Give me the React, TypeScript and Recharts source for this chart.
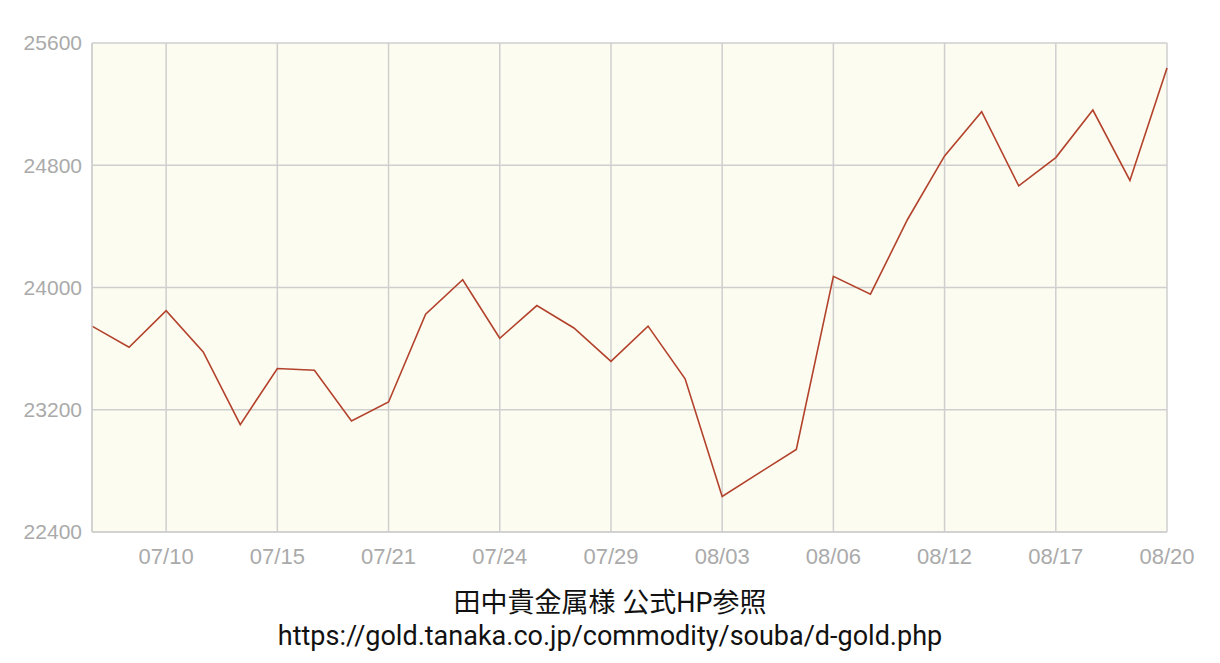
import { CartesianGrid, Line, LineChart, XAxis, YAxis } from "recharts";

const dates = [
  "07/08", "07/09", "07/10", "07/13", "07/14", "07/15", "07/16", "07/17", "07/21", "07/22",
  "07/23", "07/24", "07/27", "07/28", "07/29", "07/30", "07/31", "08/03", "08/04", "08/05",
  "08/06", "08/07", "08/10", "08/12", "08/13", "08/14", "08/17", "08/18", "08/19", "08/20",
];

const prices = [
  23747, 23609, 23848, 23578, 23103, 23470, 23458, 23127, 23251, 23825,
  24051, 23668, 23882, 23735, 23517, 23747, 23402, 22632, 22787, 22940,
  24073, 23956, 24445, 24861, 25150, 24665, 24850, 25161, 24701, 25436,
];

const xTicks = ["07/10", "07/15", "07/21", "07/24", "07/29", "08/03", "08/06", "08/12", "08/17", "08/20"];
const yTicks = [22400, 23200, 24000, 24800, 25600];

const chartData = dates.map((d, i) => ({ date: d, price: prices[i] }));

const font = "'Liberation Sans', Arial, sans-serif";

export default function App() {
  return (
    <div style={{ width: 1220, height: 663, background: "#fff" }}>
      <style>{`body { margin: 0; }`}</style>
      <LineChart
        width={1220}
        height={572}
        data={chartData}
        margin={{ top: 43, right: 53, left: 0, bottom: 0 }}
      >
        <CartesianGrid stroke="#cfcfcf" strokeWidth={1.5} fill="#fcfcf0" />
        <XAxis
          dataKey="date"
          ticks={xTicks}
          interval={0}
          tickLine={false}
          tickSize={0}
          tickMargin={16}
          height={40}
          axisLine={{ stroke: "#cfcfcf", strokeWidth: 1.5 }}
          tick={{ fill: "#aaaaaa", fontSize: 22, fontFamily: font }}
        />
        <YAxis
          domain={[22400, 25600]}
          ticks={yTicks}
          width={92}
          tickLine={false}
          tickSize={0}
          tickMargin={10}
          axisLine={{ stroke: "#cfcfcf", strokeWidth: 1.5 }}
          tick={{ fill: "#aaaaaa", fontSize: 21, fontFamily: font }}
        />
        <YAxis
          yAxisId="right"
          orientation="right"
          width={0}
          tick={false}
          tickLine={false}
          axisLine={{ stroke: "#cfcfcf", strokeWidth: 1.5 }}
        />
        <Line
          type="linear"
          dataKey="price"
          stroke="#b3422c"
          strokeWidth={1.6}
          dot={false}
          isAnimationActive={false}
        />
      </LineChart>
      <div
        style={{
          textAlign: "center",
          fontFamily: "Roboto, 'Noto Sans CJK JP', sans-serif",
          fontSize: 27,
          lineHeight: "33px",
          color: "#111",
          marginTop: 15,
        }}
      >
        <div>田中貴金属様 公式HP参照</div>
        <div>https://gold.tanaka.co.jp/commodity/souba/d-gold.php</div>
      </div>
    </div>
  );
}
